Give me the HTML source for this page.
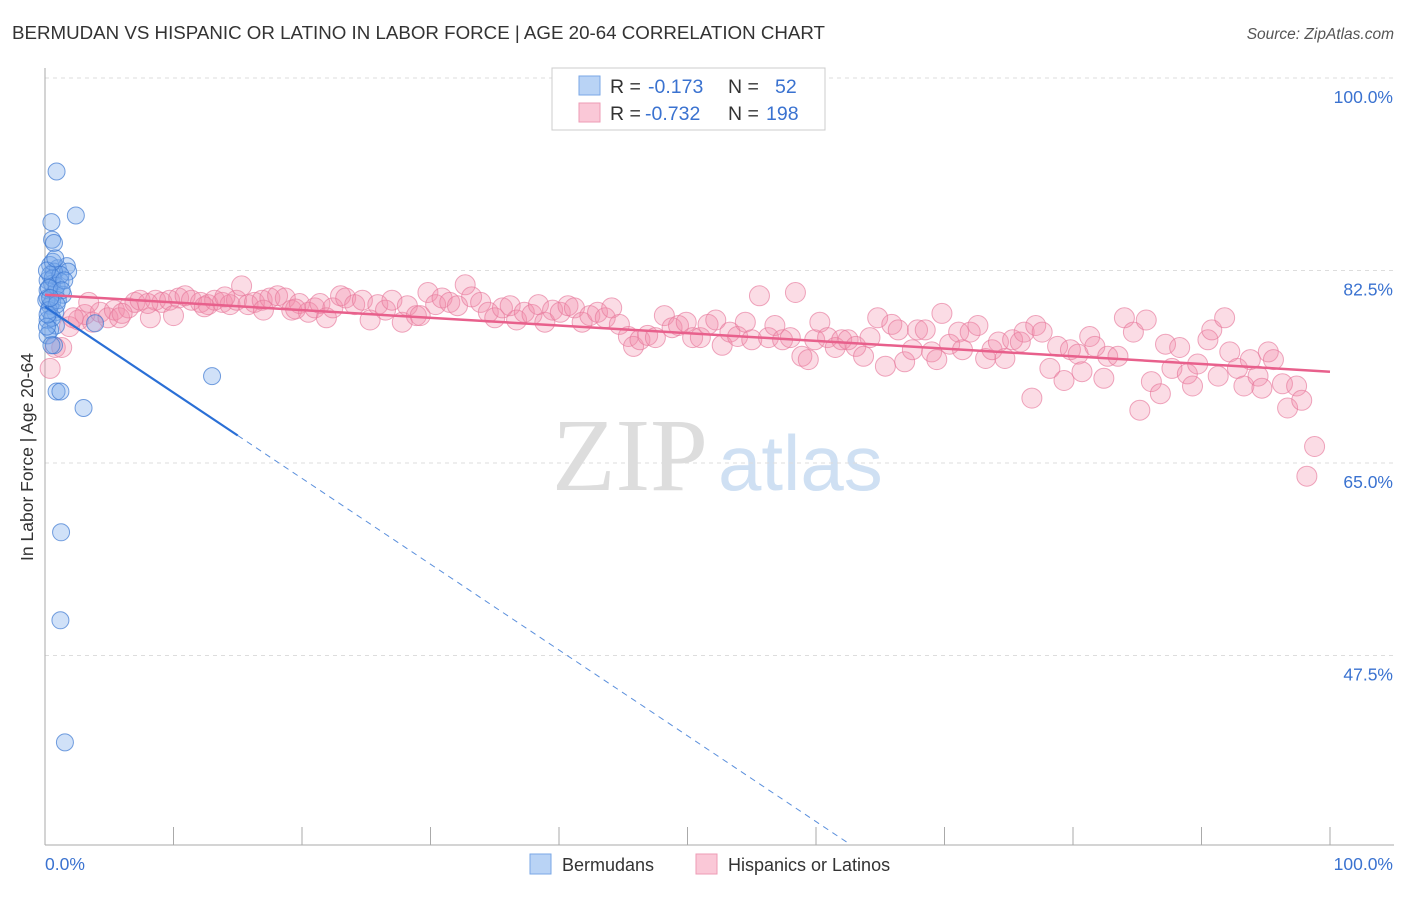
<!DOCTYPE html>
<html><head><meta charset="utf-8"><style>
body{margin:0;background:#fff;font-family:"Liberation Sans",sans-serif;}
svg text{font-family:"Liberation Sans",sans-serif;}
</style></head><body>
<svg id="chart" width="1406" height="892" viewBox="0 0 1406 892" xmlns="http://www.w3.org/2000/svg">
<text x="12" y="39" font-size="18" fill="#333" textLength="813" lengthAdjust="spacingAndGlyphs">BERMUDAN VS HISPANIC OR LATINO IN LABOR FORCE | AGE 20-64 CORRELATION CHART</text>
<text x="1394" y="39" font-size="15.5" fill="#555" text-anchor="end" font-style="italic">Source: ZipAtlas.com</text>
<g>
<text x="552" y="490" font-size="104" fill="#ddd" style="font-family:'Liberation Serif',serif">ZIP</text>
<text x="718" y="490" font-size="78" fill="#cfe0f3">atlas</text>
</g>
<g id="grid"></g>
<g id="axes"></g>
<g id="marks"></g>
<text transform="translate(33,457) rotate(-90)" font-size="17.5" fill="#333" text-anchor="middle">In Labor Force | Age 20-64</text>
<g>
<rect x="552" y="68" width="273" height="62" fill="#fff" stroke="#ccc"/>
<rect x="579" y="76" width="21" height="19" fill="#b9d3f5" stroke="#7aa7e6"/>
<rect x="579" y="103" width="21" height="19" fill="#fac8d7" stroke="#ee9bb5"/>
<text x="610" y="93" font-size="19.5" fill="#333">R = </text><text x="648" y="93" font-size="19.5" fill="#3a72d0">-0.173</text>
<text x="728" y="93" font-size="19.5" fill="#333">N = </text><text x="775" y="93" font-size="19.5" fill="#3a72d0">52</text>
<text x="610" y="120" font-size="19.5" fill="#333">R = </text><text x="645" y="120" font-size="19.5" fill="#3a72d0">-0.732</text>
<text x="728" y="120" font-size="19.5" fill="#333">N = </text><text x="766" y="120" font-size="19.5" fill="#3a72d0">198</text>
</g>
<g>
<rect x="530" y="854" width="21" height="20" fill="#b9d3f5" stroke="#7aa7e6"/>
<text x="562" y="871" font-size="18" fill="#333">Bermudans</text>
<rect x="696" y="854" width="21" height="20" fill="#fac8d7" stroke="#ee9bb5"/>
<text x="728" y="871" font-size="18" fill="#333">Hispanics or Latinos</text>
</g>
</svg>
<script>
const yTicks=[100,82.5,65,47.5];
const yTickLabels=["100.0%","82.5%","65.0%","47.5%"];
const xTicks=[0,10,20,30,40,50,60,70,80,90,100];
const blueX=[0.9,2.4,0.5,0.55,0.7,0.4,1.0,1.7,1.8,0.7,0.2,0.55,1.2,0.2,0.8,1.4,0.2,0.55,0.4,0.8,0.2,0.85,0.4,0.2,0.7,3.9,13.0,0.9,1.2,3.0,1.25,1.2,1.55,0.4,0.6,0.9,0.1,0.3,0.55,0.15,1.2,1.5,1.0,0.5,0.6,0.15,0.8,0.3,1.3,0.2,0.9,0.4];
const blueY=[91.5,87.5,86.9,85.3,85.0,83.0,82.7,82.9,82.4,82.4,81.6,81.3,81.5,80.7,80.5,80.3,80.0,79.6,79.3,78.7,78.0,77.5,77.1,76.6,75.7,77.7,72.9,71.5,71.5,70.0,58.7,50.7,39.6,82.1,81.8,81.1,79.8,78.9,78.2,77.4,82.1,81.6,79.8,75.7,83.3,82.5,83.6,80.9,80.7,78.5,79.4,80.0];
const pinkX=[0.4,0.8,1.3,1.9,2.6,3.1,3.7,4.3,4.9,5.4,5.8,6.5,7.0,7.4,8.2,8.6,9.1,9.7,10.4,10.9,11.4,12.1,12.7,13.2,13.8,14.4,14.9,15.3,15.8,16.3,16.9,17.5,18.1,18.7,19.2,19.8,20.5,21.0,21.4,21.9,22.4,23.0,23.4,24.1,24.7,25.3,25.9,26.5,27.0,27.8,28.2,28.9,29.2,29.8,30.4,30.9,31.5,32.1,32.7,33.2,33.9,34.5,35.0,35.6,36.2,36.7,37.3,37.9,38.4,38.9,39.5,40.1,40.7,41.2,41.8,42.4,43.0,43.6,44.1,44.7,45.4,45.8,46.3,46.9,47.5,48.2,48.8,49.3,49.9,50.4,51.0,51.6,52.2,52.7,53.3,53.9,54.5,55.0,55.6,56.3,56.8,57.4,58.0,58.4,58.9,59.4,59.9,60.3,60.9,61.5,62.0,62.5,63.1,63.7,64.2,64.8,65.4,65.9,66.4,66.9,67.5,67.9,68.5,69.0,69.4,69.8,70.4,71.1,71.4,72.0,72.6,73.2,73.7,74.2,74.7,75.3,75.9,76.2,76.8,77.1,77.6,78.2,78.8,79.3,79.8,80.4,80.7,81.3,81.7,82.4,82.7,83.5,84.0,84.7,85.2,85.7,86.1,86.8,87.2,87.7,88.3,88.9,89.3,89.7,90.5,90.8,91.3,91.8,92.2,92.8,93.3,93.8,94.4,94.7,95.2,95.6,96.3,96.7,97.4,97.8,98.2,98.8,2.2,3.4,6.0,8.0,10.0,12.4,14.0,17.0,19.5];
const pinkY=[73.6,75.5,75.5,77.4,78.0,78.5,77.8,78.7,78.2,78.9,78.2,79.1,79.6,79.8,78.2,79.8,79.6,79.8,80.0,80.2,79.8,79.6,79.4,79.8,79.6,79.4,79.8,81.1,79.4,79.6,79.8,80.0,80.2,80.0,78.9,79.5,78.7,79.1,79.5,78.2,79.1,80.2,80.0,79.4,79.8,78.0,79.4,78.9,79.8,77.8,79.3,78.4,78.4,80.5,79.4,80.0,79.6,79.3,81.2,80.1,79.6,78.7,78.2,79.1,79.3,78.0,78.7,78.5,79.4,77.8,78.9,78.7,79.3,79.1,77.8,78.4,78.7,78.2,79.1,77.6,76.5,75.6,76.2,76.6,76.4,78.4,77.3,77.5,77.8,76.4,76.4,77.6,78.0,75.7,76.9,76.5,77.8,76.2,80.2,76.4,77.5,76.2,76.4,80.5,74.7,74.4,76.2,77.8,76.4,75.5,76.2,76.2,75.6,74.7,76.4,78.2,73.8,77.6,77.1,74.2,75.3,77.1,77.1,75.1,74.4,78.6,75.8,76.9,75.3,76.9,77.5,74.5,75.3,76.0,74.5,76.2,76.0,76.9,70.9,77.5,76.9,73.6,75.6,72.5,75.3,74.9,73.3,76.5,75.6,72.7,74.7,74.7,78.2,76.9,69.8,78.0,72.4,71.3,75.8,73.6,75.5,73.1,72.0,74.0,76.2,77.1,72.9,78.2,75.1,73.6,72.0,74.4,72.9,71.8,75.1,74.4,72.2,70.0,72.0,70.7,63.8,66.5,78.2,79.6,78.6,79.5,78.4,79.2,80.1,78.9,79.0];
const pinkTrend=[80.3,73.3];
const blueTrend=[79.2,-0.78];
const NS="http://www.w3.org/2000/svg";
const L=45,R=1330,T=78,PX=11;
const sx=v=>L+v*(R-L)/100;
const sy=v=>T+(100-v)*PX;
function mk(tag,attrs,parent){const e=document.createElementNS(NS,tag);for(const k in attrs)e.setAttribute(k,attrs[k]);parent.appendChild(e);return e;}
const grid=document.getElementById('grid'),axes=document.getElementById('axes'),marks=document.getElementById('marks');
yTicks.forEach((t,i)=>{
 const g=mk('line',{x1:L,x2:1394,y1:sy(t),y2:sy(t),stroke:'#ddd','stroke-dasharray':'4,4'},grid);
 
 
 const tx=mk('text',{x:1393,y:sy(t)+25,'font-size':17.5,fill:'#3a72d0','text-anchor':'end'},axes);
 tx.textContent=yTickLabels[i];
 
 
});
const ya=mk('line',{x1:L,x2:L,y1:68,y2:845,stroke:'#aaa'},axes);


const xa=mk('line',{x1:L,x2:1394,y1:845,y2:845,stroke:'#aaa'},axes);


xTicks.forEach(t=>{
 const l=mk('line',{x1:sx(t),x2:sx(t),y1:827,y2:845,stroke:'#aaa'},axes);
 
 
});
const xl0=mk('text',{x:45,y:870,'font-size':17.5,fill:'#3a72d0'},axes);xl0.textContent='0.0%';


const xl1=mk('text',{x:1393,y:870,'font-size':17.5,fill:'#3a72d0','text-anchor':'end'},axes);xl1.textContent='100.0%';


pinkX.forEach((x,i)=>{
 const c=mk('circle',{cx:sx(x),cy:sy(pinkY[i]),r:10,fill:'rgba(242,140,170,0.3)',stroke:'rgba(230,120,155,0.65)','stroke-width':1},marks);
 
 
});
blueX.forEach((x,i)=>{
 const c=mk('circle',{cx:sx(x),cy:sy(blueY[i]),r:8.5,fill:'rgba(120,170,235,0.35)',stroke:'rgba(60,120,210,0.7)','stroke-width':1},marks);
 
 
});
const pl=mk('line',{x1:sx(0),y1:sy(pinkTrend[0]),x2:sx(100),y2:sy(pinkTrend[1]),stroke:'#e8608c','stroke-width':2.5},marks);


const bxEnd=15;
const bl=mk('line',{x1:sx(0),y1:sy(blueTrend[0]),x2:sx(bxEnd),y2:sy(blueTrend[0]+blueTrend[1]*bxEnd),stroke:'#2a6fd6','stroke-width':2.2},marks);


const xHit=(30.3-blueTrend[0])/blueTrend[1];
const bd=mk('line',{x1:sx(bxEnd),y1:sy(blueTrend[0]+blueTrend[1]*bxEnd),x2:sx(xHit),y2:sy(30.3),stroke:'#5a8fdc','stroke-width':1,'stroke-dasharray':'6,5'},marks);


</script>
</body></html>
